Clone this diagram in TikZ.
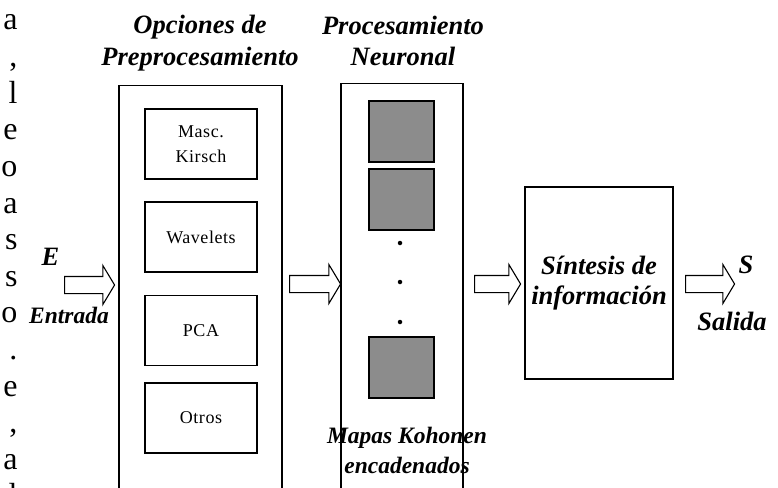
\documentclass[tikz,border=0pt]{standalone}
\usepackage{fontspec}
\setmainfont{Liberation Serif}
\usetikzlibrary{shapes.arrows}
\definecolor{mapgray}{RGB}{140,140,140}
\tikzset{every picture/.style={x=1pt,y=-1pt}}
\tikzset{stage/.style={draw,line width=1.1pt,inner sep=0pt}}
\tikzset{option/.style={draw,line width=1.1pt,minimum width=112,minimum height=70,align=center,font=\fontsize{18}{25}\selectfont\addfontfeatures{LetterSpace=3}}}
\tikzset{kmap/.style={draw,line width=1.1pt,fill=mapgray,minimum width=65,minimum height=61}}
\tikzset{dot/.style={circle,fill,inner sep=0pt,minimum size=4.5}}
\tikzset{fatarrow/.style={draw,line width=1.1pt,single arrow,single arrow head extend=11pt,single arrow tip angle=118,inner xsep=0pt,inner ysep=8pt}}
\tikzset{title/.style={font=\fontsize{26.5}{32}\selectfont\bfseries\itshape,align=center}}
\tikzset{subtitle/.style={font=\fontsize{23.5}{30}\selectfont\bfseries\itshape,align=center}}
\tikzset{stray/.style={font=\fontsize{32}{36}\selectfont,anchor=base east}}

\begin{document}
\begin{tikzpicture}
\useasboundingbox (0,0) rectangle (778,487);
\clip (0,0) rectangle (778,487);

% column of text cut at the left edge
\foreach \ch [count=\k from 0] in {a,{,},l,e,o,a,s,s,o,.,e,{,},a,l}
  \node [stray] (txt\k) at (21,30+36.6*\k) {\ch};

% preprocessing
\node [stage,minimum width=163,minimum height=440,anchor=north] (prep) at (200.5,85) {};
\node [option] (kirsch) at (201,144) {Masc.\\Kirsch};
\node [option] (wave) at (201,237) {Wavelets};
\node [option] (pca) at (201,330.5) {PCA};
\node [option] (otros) at (201,418) {Otros};
\node [title,anchor=base] (tprep) at (200,65) {Opciones de\\Preprocesamiento};

% neural processing
\node [stage,minimum width=122,minimum height=440,anchor=north] (neur) at (402,83) {};
\node [kmap] (map1) at (401.5,131.5) {};
\node [kmap] (map2) at (401.5,199.5) {};
\node [kmap] (map3) at (401.5,367.5) {};
\node [dot] (d1) at (400,243) {};
\node [dot] (d2) at (400,282) {};
\node [dot] (d3) at (400,322) {};
\node [title,anchor=base] (tneur) at (403,66) {Procesamiento\\Neuronal};
\node [subtitle,anchor=base] (tmaps) at (407,473) {Mapas Kohonen\\encadenados};

% synthesis
\node [stage,title,font=\fontsize{26.5}{30}\selectfont\bfseries\itshape,minimum width=148,minimum height=192] (sint) at (599,283) {Síntesis de\\información};

% arrows
\node [fatarrow,minimum height=50] (ain) at (87,285) {};
\node [fatarrow,minimum height=51] (a1) at (312.5,284) {};
\node [fatarrow,minimum height=46] (a2) at (495,284) {};
\node [fatarrow,minimum height=49] (aout) at (707.5,284) {};

\node [title,anchor=base] (e) at (50.5,265) {E};
\node [subtitle,anchor=base] (entrada) at (69,323) {Entrada};
\node [title,anchor=base] (s) at (746,273) {S};
\node [title,anchor=base] (salida) at (732,330) {Salida};
\end{tikzpicture}
\end{document}
